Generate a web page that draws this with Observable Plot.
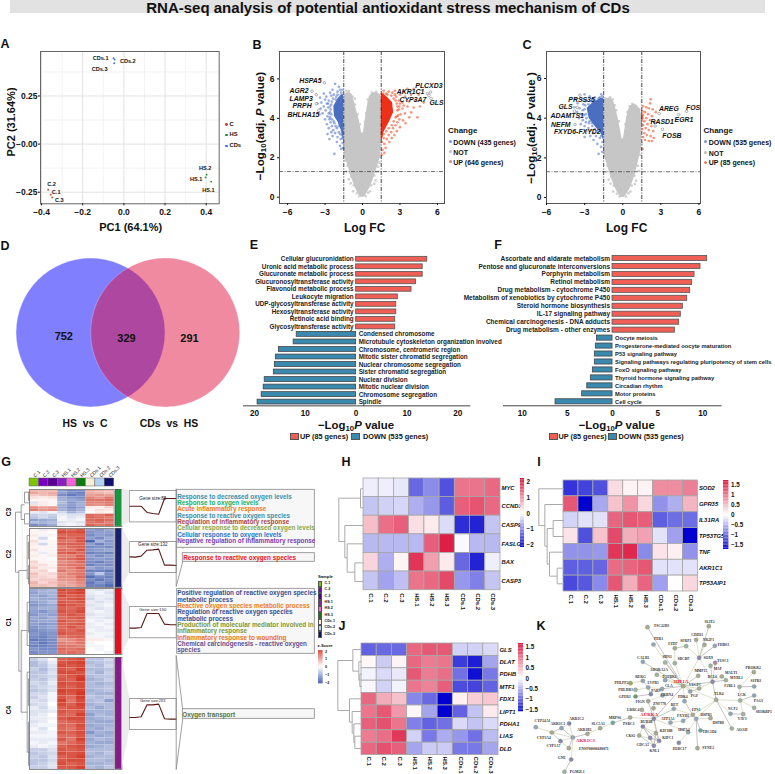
<!DOCTYPE html>
<html><head><meta charset="utf-8">
<script src="https://cdn.jsdelivr.net/npm/d3@7"></script>
<script src="https://cdn.jsdelivr.net/npm/@observablehq/plot@0.6"></script>
<style>
html,body{margin:0;padding:0;background:#fff}
#root{position:relative;width:775px;height:774px;overflow:hidden;font-family:"Liberation Sans",Arial,sans-serif;color:#111}
.t{position:absolute;white-space:pre;font-weight:bold;line-height:1}
.t sub{font-size:.68em;line-height:0;vertical-align:-.25em}
</style></head><body><div id="root"></div>
<script>
// ---------- DATA ----------
const samples=["C.1","C.2","C.3","HS.1","HS.2","HS.3","CDs.1","CDs.2","CDs.3"];
const sampleColors=["#7cc400","#7a00c0","#5a0090","#8a1fc0","#ff60e0","#107a10","#fdeed8","#b0d4f4","#101070"];
// A: PCA
const pcaPoints=[["C",-.368,-.237],["C",-.355,-.263],["C",-.348,-.277],["HS",.402,-.159],["HS",.397,-.173],["HS",.424,-.195],["CDs",-.05,.446],["CDs",-.045,.439],["CDs",-.047,.42]];
const pcaLabels=[["C.2",-.351,-.209],["C.1",-.329,-.252],["C.3",-.314,-.291],["HS.2",.395,-.125],["HS.1",.351,-.182],["HS.1",.411,-.241],["CDs.1",-.113,.448],["CDs.2",.019,.429],["CDs.3",-.118,.389]];
// B: volcano HS vs C (envelopes of the dense clouds, then individually read points)
const bGrayLow=[[0,-.1,.1],[.1,-.26,.26],[.25,-.4,.4],[.5,-.6,.62],[1,-.88,.92],[1.5,-1.12,1.18],[2,-1.38,1.42],[2.5,-1.5,1.5],[3,-1.5,1.5],[3.25,-1.5,1.5]];
const bGrayLeft=[[3.2,-1.5,-.06],[3.6,-1.5,-.16],[4,-1.5,-.3],[4.5,-1.5,-.52],[5,-1.5,-.72],[5.2,-1.42,-.85],[5.3,-1.25,-1]];
const bGrayRight=[[3.2,.06,1.5],[3.6,.14,1.5],[4,.24,1.5],[4.5,.36,1.5],[5,.52,1.5],[5.2,.66,1.42],[5.3,.85,1.2]];
const bBlueCore=[[2.9,-1.55],[3.4,-1.7],[3.8,-1.95],[4.1,-2.25],[4.6,-2.3],[5,-1.95],[5.2,-1.65]];
const bRedCore=[[2.9,1.58],[3.3,1.72],[3.8,2.15],[4.3,2.5],[4.8,2.4],[5.1,1.95],[5.25,1.65]];
const bBlue=[[-2.2,5.75],[-1.9,5.6],[-2.4,5.45],[-2,5.35],[-2.6,5.3],[-3.1,5.25],[-1.7,5.3],[-2.9,5.1],[-2.5,5.15],[-3.4,5.05],[-3,4.95],[-2.7,4.9],[-3.3,4.8],[-2.85,4.75],[-3.6,4.75],[-3.1,4.6],[-2.75,4.55],[-3.35,4.5],[-2.95,4.4],[-2.6,4.3],[-3.2,4.25],[-3.45,4.2],[-2.8,4.1],[-2.65,3.95],[-3,3.95],[-2.55,3.8],[-2.85,3.7],[-2.45,3.6],[-2.7,3.5],[-2.35,3.4],[-2.5,3.3],[-2.8,3.2],[-2.2,3.25],[-2.4,3.1],[-2.65,2.95],[-2,3.05],[-1.75,2.95],[-2.05,2.8],[-1.6,2.75],[-1.8,2.6],[-1.55,2.5],[-1.7,2.45],[-2.25,2.2],[-1.6,3],[-1.9,3.3],[-2.15,3.6],[-2.3,3.85],[-2.5,4.7],[-2.35,5],[-2.1,5.1],[-1.8,5.45],[-2.55,4.45],[-2.6,4.05],[-2.45,4.85],[-2.6,4.6],[-2.5,4.2],[-2.45,3.95],[-2.25,3.75],[-2.05,3.5],[-1.9,3.6],[-1.8,3.2],[-1.65,3.15],[-2.15,4.95],[-2,5.2],[-1.75,5.15],[-1.6,5.45],[-2.7,4.25],[-2.75,4.75],[-2.3,5.2],[-1.55,3.5],[-1.65,3.4],[-1.85,3.75]];
const bRed=[[4.1,5.5],[3.6,5.5],[3.3,5.35],[2.6,5.4],[2.1,5.35],[1.7,5.4],[4.5,5.2],[3.9,5.2],[3.4,5.1],[3,5.2],[2.7,5.1],[4.2,4.9],[4.9,4.8],[3.7,4.85],[3.2,4.8],[2.9,4.9],[4.6,4.6],[4.1,4.55],[3.6,4.6],[3.2,4.5],[2.95,4.6],[3.9,4.3],[3.4,4.25],[3.05,4.2],[4.4,4.05],[3.75,4.05],[2.95,3.95],[3.25,3.9],[2.8,3.8],[3.45,3.75],[2.65,3.65],[3,3.55],[2.45,3.5],[2.75,3.35],[2.3,3.3],[2.55,3.15],[2.1,3.15],[2.35,3],[1.95,2.95],[1.7,3],[2.15,2.8],[1.75,2.7],[1.55,2.8],[1.85,2.5],[1.6,2.4],[1.75,2.25],[1.55,2.15],[2.8,4.4],[2.6,5.2],[2.4,5.3],[1.9,5.25],[3.3,4.65],[2.85,4.15],[2.8,4.6],[2.75,4.75],[2.65,4.9],[2.5,5],[2.3,5.15],[2,5.2],[1.65,5.25],[2.75,4.1],[2.5,3.85],[2.35,3.65],[2.1,3.5],[1.9,3.35],[1.7,3.2],[1.55,3.1],[2.9,4.45],[3,4.75],[2.65,4.05]];
const bGrayFuzz=[[-.9,1.05],[.95,1.1],[-1.2,1.6],[1.25,1.55],[-1.45,2.1],[1.45,2.05],[-.7,.6],[.7,.6],[-.45,.2],[.45,.22],[-.25,.05],[.25,.05],[-.8,5.1],[-.95,5.2],[.6,5.1],[.75,5.3],[1.1,5.35],[-1.3,5.4],[-1.1,5.38],[.5,4.8],[-.6,4.7],[-.4,4.2],[.3,4.25],[.2,3.8],[-.2,3.7],[-1.1,.9],[1.05,.85],[-.95,.7],[.95,.68],[-1.3,1.3],[1.3,1.3],[-.75,.3],[.6,.3],[-1,1.25],[1.1,1.3],[-.6,5],[.42,4.95],[-1.4,1.85],[1.35,1.75]];
const bGenes=[["HSPA5",-3.05,5.8,-4.17,5.89],["AGR2",-4.04,5.38,-5.08,5.38],["LAMP3",-3.7,5.2,-4.92,5.01],["PRPH",-3.7,4.74,-4.84,4.62],["BHLHA15",-3.5,4.4,-4.73,4.2],["PLCXD3",5.45,5.33,5.32,5.67],["AKR1C1",5.2,5.25,3.85,5.33],["CYP3A7",5.32,5.16,4.04,4.96],["GLS",5.5,5,5.93,4.77]];
// C: volcano CDs vs HS
const cGrayLow=[[0,-.1,.1],[.1,-.26,.26],[.25,-.4,.4],[.5,-.6,.62],[1,-.9,.9],[1.5,-1.15,1.12],[2,-1.4,1.3],[2.5,-1.5,1.48],[2.95,-1.5,1.5]];
const cGrayLeft=[[2.9,-1.5,-.04],[3.4,-1.5,-.18],[4,-1.5,-.36],[4.5,-1.5,-.55],[4.85,-1.5,-.72],[5,-1.3,-.95]];
const cGrayRight=[[2.9,.04,1.5],[3.4,.16,1.5],[4,.3,1.5],[4.4,.44,1.4],[4.6,.6,1.2],[4.7,.8,1]];
const cBlueCore=[[2.9,-1.53],[3.2,-1.68],[3.6,-2.2],[4,-2.65],[4.5,-2.8],[4.8,-2.3],[5,-1.7]];
const cRedCore=[[3.7,1.53],[3.9,1.6],[4.2,1.58],[4.4,1.53]];
const cBlue=[[-3,5.2],[-1.7,5.2],[-2.6,5.1],[-2.2,5.05],[-1.9,5],[-3.7,5],[-3.2,4.95],[-2.85,4.9],[-2.4,4.95],[-3.55,4.75],[-3.1,4.7],[-3.8,4.55],[-3.4,4.5],[-3.15,4.4],[-3.6,4.3],[-3.3,4.2],[-3.05,4.15],[-3.45,4],[-3.15,3.9],[-2.9,3.8],[-3.3,3.7],[-3,3.6],[-2.7,3.5],[-2.5,3.4],[-2.85,3.35],[-2.3,3.25],[-2.55,3.1],[-2.1,3.1],[-1.8,3],[-2.3,2.9],[-1.6,2.8],[-2,2.7],[-1.7,2.55],[-1.6,2.3],[-1.9,2.2],[-3,3.05],[-2.65,3.75],[-2.4,3.6],[-2.95,4.65],[-3,4.45],[-2.9,4.2],[-2.85,4],[-2.6,3.85],[-2.4,3.75],[-2.2,3.45],[-1.95,3.3],[-1.7,3.1],[-2.7,4.7],[-2.5,4.85],[-2.2,4.9],[-1.8,5.05],[-1.6,5.1],[-2.95,4.85]];
const cRed=[[2.2,4.95],[2.15,4.75],[1.6,4.6],[1.85,4.55],[2.05,4.5],[2.35,4.45],[1.55,4.35],[1.75,4.3],[2.6,4.3],[2,4.2],[1.6,4.15],[2.3,4.1],[1.85,4],[1.55,4],[2.15,3.9],[1.7,3.85],[2.5,3.8],[1.95,3.7],[1.6,3.65],[2.25,3.6],[1.8,3.5],[1.55,3.45],[2.05,3.4],[2.4,3.35],[1.7,3.25],[1.9,3.15],[2.2,3.1],[1.6,3.05],[2.45,3],[1.75,2.9],[2.05,2.85],[2.3,2.85],[1.55,2.45]];
const cGrayFuzz=[[-.9,1.05],[.92,1.1],[-1.2,1.6],[1.2,1.6],[-1.45,2.1],[1.38,2.15],[-.7,.6],[.7,.6],[-.45,.2],[.45,.22],[-.25,.05],[.25,.05],[-.8,4.95],[-1,5.05],[.55,4.6],[.75,4.72],[1.3,4.45],[1.45,4.2],[-1.4,5],[.38,4.3],[-.5,4.4],[-.3,3.85],[.22,3.7],[-1.1,.9],[1.05,.85],[-.95,.7],[.95,.68],[-1.3,1.3],[1.25,1.35],[-.75,.3],[.6,.3],[1.5,2.7],[1.45,2.45],[-.62,4.65]];
const cGenes=[["PRSS35",-3.37,5.16,-3.24,4.94],["GLS",-3.58,4.54,-4.5,4.59],["ADAMTS1",-3.8,4.35,-4.37,4.1],["NEFM",-3.76,3.68,-4.87,3.68],["FXYD6-FXYD2",-1.9,3.4,-3.58,3.33],["AREG",2.87,4.23,3.63,4.47],["FOS",5.03,4.35,5.53,4.52],["RASD1",2.55,3.61,3.1,3.8],["EGR1",4.4,4.18,4.82,3.9],["FOSB",3.13,3.44,3.87,3.13]];
// D: Venn
const vennSets=[["HS vs C",90],["CDs vs HS",164.7]];
const vennCounts=[["752",63.3],["329",126],["291",189]];
// E
const eUpLabels=["Cellular glucuronidation","Uronic acid metabolic process","Glucuronate metabolic process","Glucuronosyltransferase activity","Flavonoid metabolic process","Leukocyte migration","UDP-glycosyltransferase activity","Hexosyltransferase activity","Retinoic acid binding","Glycosyltransferase activity"];
const eUpValues=[14,13.1,13.1,11.8,10.9,8.2,7.9,7.9,7.7,7.7];
const eDownLabels=["Condensed chromosome","Microtubule cytoskeleton organization involved","Chromosome, centromeric region","Mitotic sister chromatid segregation","Nuclear chromosome segregation","Sister chromatid segregation","Nuclear division","Mitotic nuclear division","Chromosome segregation","Spindle"];
const eDownValues=[11.7,12.3,15.2,15.8,16,16.2,18,18.2,18.6,19.4];
// F
const fUpLabels=["Ascorbate and aldarate metabolism","Pentose and glucuronate interconversions","Porphyrin metabolism","Retinol metabolism","Drug metabolism - cytochrome P450","Metabolism of xenobiotics by cytochrome P450","Steroid hormone biosynthesis","IL-17 signaling pathway","Chemical carcinogenesis - DNA adducts","Drug metabolism - other enzymes"];
const fUpValues=[10.48,9.74,9.08,8.82,8.6,8.27,7.79,7.56,7.38,6.9];
const fDownLabels=["Oocyte meiosis","Progesterone-mediated oocyte maturation","P53 signaling pathway","Signaling pathways regulating pluripotency of stem cells","FoxO signaling pathway","Thyroid hormone signaling pathway","Circadian rhythm","Motor proteins","Cell cycle"];
const fDownValues=[1.73,1.85,1.96,1.96,2.18,2.4,2.8,3.36,6.31];
// G heatmap rows (z-scores)
const heatC3=[[.7,.8,.7,-1.1,-1.3,-1.2,.9,.8,.7],[.9,.7,.8,-1,-1.2,-1.3,.8,.7,.6],[.5,.6,.7,-1.2,-1.4,-1.2,.9,1,.9],[.3,.2,.3,-.9,-1.1,-1.2,1.2,1,1.3],[.1,.1,.1,-.8,-.9,-1,1.3,1.3,1.4],[-.3,.2,.1,-.7,-1.1,-.9,1.2,1.2,1.3],[.3,.2,.1,-.8,-1,-.8,1.1,1,1.2],[1.1,.9,1,-.9,-1.2,-1,.2,.1,.4],[1.2,1,1.1,-.8,-1,-.8,.1,.3,.2],[-.2,-.3,-.1,-.4,-.8,-.6,0,.2,.1],[-.5,-.4,-.5,-.2,-.3,-.3,1.4,1.3,1.5],[-.6,-.4,-.6,-.1,-.3,-.2,1.5,1.4,1.3],[-1,-.9,-.8,-.1,-.2,-.1,1.4,1.5,1.4],[-.7,-.8,-.7,-.3,-.2,-.3,1.3,1.4,1.2],[-1.2,-1.1,-.9,-.2,-.1,-.2,1.5,1.3,1.4]];
const heatC2=[[.1,-.2,.1,1.5,1.4,1.6,-1,-1.1,-.9],[.1,.1,0,1.7,1.6,1.7,-1.1,-1,-1],[.2,-.1,.1,1.4,1.5,1.5,-1.2,-1,-1.1],[.1,-.4,0,1.6,1.4,1.6,-1,-1.2,-.9],[.3,-.1,.1,1.3,1.3,1.6,-1.6,-.8,-1.1],[.2,-.4,.1,1.5,1.5,1.5,-1,-1.3,-1],[.1,.1,.1,1.2,1.4,1.5,-1.2,-1.1,-1.2],[.3,.1,.1,1.4,1.3,1.6,-1.1,-1,-.9],[.1,-.2,.1,1.5,1.6,1.4,-1.3,-1.2,-1.3],[.2,.1,.2,1.2,1.2,1.5,-1,-1.2,-1],[.1,.1,0,1.3,1.4,1.6,-1.1,-1,-1.1],[.4,.1,.1,1.1,1.2,1.4,-1.2,-1.3,-1.1],[.3,.3,.1,1.2,1.3,1.3,-1.3,-1.1,-1.2],[.5,.2,.2,1.1,1.2,1.5,-.9,-1.1,-1],[.3,.4,.1,1.3,1.1,1.3,-1.3,-1.3,-1.4],[.6,.3,.4,1,1.2,1.3,-1.1,-.6,-1.2],[.5,.4,.3,1.1,1.1,1.4,-1.5,-1.2,-1.3],[.4,.5,.5,1,1,1.2,-1.2,-1.4,-1.2],[.7,.4,.6,.8,.9,1.1,-1.4,-1.1,-1.3],[.6,.6,.5,.9,.8,1,-1.3,-1.3,-1.5]];
const heatC1=[[-.9,-.8,-.7,1.7,1.6,1.8,-.2,-.3,-.2],[-1,-.8,-.8,1.6,1.7,1.8,-.2,-.1,-.3],[-.9,-1,-.8,1.7,1.5,1.6,-.3,-.2,-.2],[-.8,-.9,-.9,1.5,1.6,1.7,-.4,-.2,-.3],[-1,-.9,-.7,1.6,1.5,1.6,-.2,-.3,-.2],[-1.1,-1,-.9,1.7,1.6,1.5,-.3,-.2,-.1],[-.9,-.8,-.8,1.5,1.4,1.6,-.2,-.3,-.2],[-1,-1.1,-.9,1.6,1.5,1.7,-.2,-.1,-.2],[-1.1,-.9,-1,1.5,1.6,1.5,-.3,-.2,-.2],[-.9,-1,-.8,1.4,1.5,1.6,-.2,-.2,-.3],[-1,-.9,-.9,1.6,1.4,1.5,-.1,-.2,-.1],[-1,-1.1,-1,1.5,1.5,1.6,-.2,-.1,-.2],[-1.1,-1,-.9,1.4,1.6,1.4,-.2,-.2,-.1],[-1.2,-1.1,-1,1.5,1.4,1.6,-.1,-.2,-.2],[-1.1,-1.2,-1.1,1.6,1.5,1.5,-.2,-.1,-.1],[-1.2,-1.3,-1.1,1.3,1.4,1.5,-.1,-.1,-.2],[-1.4,-1.3,-1.2,1,1.1,1.3,.2,.2,.1],[-1.2,-1.4,-1.2,1.2,1.1,1.3,-.1,0,0],[-1.3,-1.3,-1.2,1.3,1.3,1.2,-.1,-.1,0],[-1.1,-1.2,-1.2,1.4,1.3,1.4,0,-.1,0],[-1.2,-1.1,-1.1,1.3,1.4,1.3,0,0,-.1]];
const heatC4=[[-.5,-.3,.1,1.5,1.6,1.7,-.6,-.6,-.4],[-.7,-.5,-.2,1.6,1.7,1.8,-.7,-.6,-.5],[-.7,-.6,-.3,1.7,1.6,1.7,-.6,-.7,-.4],[-.5,-.7,-.4,1.6,1.5,1.8,-.7,-.7,-.6],[-.6,-.6,-.3,1.7,1.7,1.6,-.6,-.8,-.5],[-.6,-.5,-.4,1.5,1.6,1.8,-.7,-.6,-.6],[-.5,-.6,-.3,1.6,1.5,1.9,-.8,-.7,-.5],[-.4,-.5,-.2,1.7,1.6,1.7,-.7,-.8,-.7],[-.5,-.4,-.3,1.6,1.5,1.7,-.7,-.7,-.6],[-.6,-.5,-.3,1.8,1.7,1.8,-.8,-.7,-.6],[-.4,-.4,-.1,1.7,1.6,1.9,-.7,-.8,-.8],[-.5,-.3,-.1,1.6,1.4,1.8,-.6,-.7,-.6],[-.3,-.4,-.1,1.8,1.3,1.7,-.7,-.6,-1],[-.4,-.3,0,1.7,1.5,1.8,-.8,-.7,-.7],[-.2,-.4,-.1,1.5,1.6,1.7,-.7,-.9,-.7],[-.3,-.3,-.2,1.6,1.5,1.6,-.8,-.8,-.8],[-.3,-.2,0,1.5,1.4,1.8,-1,-.7,-.8],[-.2,-.2,-.1,1.6,1.7,1.7,-.9,-.8,-.7],[-.3,-.2,0,1.4,1.5,1.6,-.8,-.9,-.9],[-.2,-.1,-.1,1.5,1.4,1.7,-.9,-.8,-.8],[-.1,-.3,0,1.4,1.3,1.6,-.8,-.9,-.7],[-.2,-.2,-.1,1.6,1.5,1.7,-1.1,-.8,-.9],[-.1,-.1,-.1,1.4,1.4,1.6,-.8,-.9,-.8],[-.2,-.2,-.2,1.6,1.3,1.8,-.9,-.7,-.8],[-.1,-.2,-.1,1.3,1.4,1.6,-.8,-.9,-.9],[-.2,-.1,-.2,1.5,1.6,1.7,-.9,-.8,-.7],[-.5,-.5,-.3,1.6,1.5,1.6,-.7,-.7,-.7],[-.6,-.5,-.4,1.7,1.6,1.7,-.7,-.8,-.6],[-.5,-.6,-.3,1.5,1.6,1.8,-.8,-.7,-.7],[-.6,-.6,-.4,1.6,1.7,1.7,-.7,-.7,-.8],[-.6,-.5,-.3,1.7,1.5,1.6,-.8,-.8,-.7],[-.5,-.5,-.3,1.6,1.6,1.8,-.7,-.8,-.6]];
const geneProfiles=[
 {size:"Gene size:88",v:[.5,.5,.5,.3,.266,.245,.745,.745,.745]},
 {size:"Gene size:132",v:[.505,.495,.527,.72,.73,.753,.236,.236,.226]},
 {size:"Gene size:150",v:[.31,.31,.33,.777,.777,.777,.436,.415,.415]},
 {size:"Gene size:283",v:[.387,.387,.41,.795,.795,.817,.344,.333,.333]}];
const boxTexts=[
 ["Response to decreased oxygen levels","#3d8fa8",496],["Response to oxygen levels","#17b26a",502.3],["Acute inflammatory response","#ef7d22",508.7],["Response to reactive oxygen species","#3d8fa8",515],["Regulation of inflammatory response","#a84a4a",521.3],["Cellular response to decreased oxygen levels","#8aa84a",527.7],["Cellular response to oxygen levels","#1f78c8",534],["Negative regulation of inflammatory response","#7a3fb0",540.3],
 ["Response to reactive oxygen species","#f01020",557.3,182.7],
 ["Positive regulation of reactive oxygen species","#37508f",592.7],["metabolic process","#37508f",599],["Reactive oxygen species metabolic process","#ef7d22",605.3],["Regulation of reactive oxygen species","#37508f",611.7],["metabolic process","#37508f",618],["Production of molecular mediator involved in","#7a9a3a",624.3],["inflammatory response","#7a9a3a",630.7],["Inflammatory response to wounding","#e8751a",637],["Chemical carcinogenesis - reactive oxygen","#5f4f8f",643.3],["species","#5f4f8f",649.7],
 ["Oxygen transport","#5a7030",714,181.7]];
// H, I, J
const hGenes=["MYC","CCND1","CASP9","FASLG","BAX","CASP3"];
const hValues=[[-.15,-.15,-.2,-1.3,-1,-1.5,1.3,1.3,1.4],[-.5,-.4,-.35,-.7,-.9,-1.4,1.5,1.6,1.4],[.6,1.35,1.5,.3,.2,-.3,-1.8,-1.9,-.5],[-.6,-.6,-.6,-.6,1.5,2.1,-.05,-.6,-.6],[.4,-.7,.1,1.9,.9,.2,-1.3,-1.9,-.15],[-.5,-.8,-.55,1.3,1.4,1.7,-.9,-1.1,-.5]];
const iGenes=["SOD2","GPR35","IL31RA","TP53TG5","TNF","AKR1C1","TP53AIP1"];
const iValues=[[-1.4,-1.3,-1.2,.25,.1,.1,.85,.85,.95],[1.25,-1.75,-.6,.45,.8,.3,-.75,-.55,.55],[-.3,-.2,-.2,1.15,1.25,1.2,-1.1,-1,-1],[.2,-1.2,.45,1.35,.6,.7,-.2,-.65,-1.75],[-.75,-.75,-.7,1.5,1.6,-.8,.2,.12,-.75],[-1.1,-1.1,-1.05,1.1,1.15,1.25,-.2,-.2,-.2],[-1.25,-1.15,-.8,1.25,.6,1.15,-.65,0,.3]];
const jGenes=["GLS","DLAT","PDHB","MTF1","FDX1","LIPT1","PDHA1","LIAS","DLD"];
const jValues=[[-1.05,-1,-1,1.1,1.2,1.2,-.3,-.3,-.25],[.05,-.35,.08,1.1,.95,1,-1.3,-1.5,-.6],[-.08,-.25,-.15,1.2,.95,1.05,-.95,-1.6,-.9],[-.05,-.3,-.08,1,.9,1.15,-1.2,-1.25,-1.05],[1.1,.6,.45,-.8,-1,-1.9,.1,.35,.4],[1,1.2,.75,.05,-.6,-1.7,-1.05,-.4,.15],[1.15,1.25,1,-.85,-1.05,-.95,-.25,-.4,-.25],[.95,1.05,1.45,-.3,-.9,-.55,-.7,-.95,-.45],[1.1,1.25,1.15,-.6,-.35,-.35,-.9,-.9,-.6]];
// dendrogram merges: junction depth, top leaf, bottom leaf, top end depth, bottom end depth
const hTree=[[105,115,172,113,113],[88,337,393,113,113],[65,280,365,113,88],[58,225,322,113,65],[40,143,273,105,58]];
const iTree=[[68,210,258,100,100],[80,353,400,100,100],[57,305,377,100,80],[50,234,341,68,57],[43,162,287,100,50],[25,115,225,100,43]];
const jTree=[[103,206,243,109,109],[100,169,224,109,103],[82,132,197,109,100],[88,392,429,109,109],[85,355,411,109,88],[80,318,383,109,85],[72,280,350,109,80],[37,165,315,82,72]];
const gTree=[[62,178,222,72,72],[72,140,172,88,88],[72,205,235,88,88],[62,555,800,80,80],[55,375,677,80,62],[45,200,380,62,55],[80,270,400,88,88],[80,470,600,88,88],[80,680,920,88,88],[84,290,340,88,88],[84,360,415,88,88],[84,500,560,88,88],[84,700,780,88,88],[84,830,960,88,88],[84,140,165,88,88]];
// K network: [name, node x, node y, label x, label y, colour class]
const netNodes=[["TSC22D3",351,65,393,62,"o"],["SLIT2",535,62,537,50,"o"],["PER1",369,117,384,101,"b"],["CDH11",497,103,500,87,"o"],["NR2F1",522,118,534,103,"o"],["THBS3",553,121,578,118,"b"],["SFRP1",467,122,466,106,"g"],["FZD7",433,128,427,116,"o"],["SOX9",506,157,533,157,"p"],["SDN1",404,171,410,155,"g"],["SBCBP",433,173,459,160,"g"],["TUSC1",554,172,577,166,"r"],["CALB1",337,169,338,157,"b"],["MAF",540,181,562,190,"g"],["ADORA2A",379,208,385,193,"g"],["MMP15",503,211,511,195,"o"],["TGFBR2",404,224,416,213,"b"],["MALT1",574,213,602,202,"o"],["MYBL1",586,224,618,218,"g"],["BCL6",546,229,546,215,"p"],["PROKR2",670,200,668,186,"o"],["F2RL1",627,244,598,241,"g"],["S1PR3",671,243,676,227,"b"],["CLA",395,250,415,240,"b"],["VEGFC",506,249,494,238,"o"],["HIF1A",458,242,452,229,"o"],["PHLPP2",300,233,273,232,"y"],["RERG",337,226,330,215,"b"],["LVPR5",353,246,368,233,"b"],["PHLDB3",315,253,285,252,"g"],["PARV",361,266,377,256,"p"],["CRBN4",396,270,409,267,"b"],["PGF",479,258,492,271,"b"],["TLR4",557,283,565,266,"o"],["LCK",629,285,634,268,"g"],["PAG1",671,270,684,285,"b"],["PDK4",462,287,457,274,"b"],["GPER1",315,273,283,275,"G"],["FIGN",353,287,329,288,"o"],["ZNF778",369,308,387,295,"o"],["RET",430,310,432,299,"b"],["SH3KBP1",671,307,700,319,"g"],["NCF2",600,325,607,311,"b"],["VAV3",638,326,635,341,"g"],["LRRC4",334,313,308,313,"o"],["EPS1",487,328,497,312,"o"],["HSPB1",497,340,527,327,"b"],["FXYD2",458,346,458,332,"b"],["ATP1A1",420,351,412,340,"b"],["AURKA",370,340,356,328,"p"],["HSPB8",540,338,563,351,"o"],["PSRC1",299,336,295,355,"o"],["MRPS6",247,352,253,337,"t"],["SLC5A1",209,368,203,355,"o"],["AKR1B1",171,385,162,372,"o"],["AKR1C2",116,354,138,339,"p"],["AKR1C1",93,368,82,355,"b"],["CYP24A1",16,365,36,345,"b"],["CYP3A4",64,381,40,397,"o"],["CYP3A7",90,407,69,422,"p"],["AKR1C3",127,396,165,404,"b"],["ENSP00000480071",115,428,190,430,"o"],["GNE",122,462,94,458,"p"],["PGM2L1",102,499,140,499,"g"],["BUB1B",337,363,348,349,"p"],["CKS2",326,390,300,390,"o"],["CDCA5",359,397,337,417,"p"],["KNL1",370,421,372,437,"p"],["KIF18B",376,383,407,375,"o"],["KIFC1",386,406,412,396,"p"],["H2BC17",445,412,447,431,"p"],["HSPA2",473,380,460,373,"b"],["TBC1D4",510,375,537,378,"t"],["SYNE2",501,428,533,428,"o"],["AOAH",604,369,634,372,"g"]];
const netRed=["HIF1A","AURKA","AKR1C3"];
const netEdges="TSC22D3 HIF1A|PER1 HIF1A|SOX9 SLIT2|SOX9 CDH11|SOX9 NR2F1|SOX9 THBS3|SOX9 SFRP1|SFRP1 FZD7|FZD7 SBCBP|SBCBP HIF1A|SDN1 HIF1A|SOX9 HIF1A|MMP15 HIF1A|ADORA2A HIF1A|TGFBR2 HIF1A|CLA HIF1A|VEGFC HIF1A|PGF VEGFC|PGF HIF1A|TLR4 HIF1A|TLR4 BCL6|BCL6 SOX9|BCL6 MAF|BCL6 TUSC1|BCL6 MALT1|BCL6 MYBL1|BCL6 VEGFC|BCL6 HIF1A|TLR4 LCK|LCK F2RL1|F2RL1 S1PR3|F2RL1 PROKR2|LCK PAG1|LCK SH3KBP1|LCK VAV3|VAV3 NCF2|TLR4 NCF2|TLR4 AOAH|TLR4 HSPB1|TLR4 EPS1|HIF1A AURKA|HIF1A PDK4|PDK4 EPS1|EPS1 RET|EPS1 HSPB1|EPS1 FXYD2|HSPB1 HSPB8|HSPB1 TBC1D4|HSPB1 HSPA2|HSPA2 H2BC17|HSPB1 SYNE2|FXYD2 ATP1A1|RET AURKA|ZNF778 AURKA|LRRC4 AURKA|FIGN AURKA|AURKA PSRC1|PSRC1 MRPS6|MRPS6 SLC5A1|SLC5A1 AKR1B1|AKR1B1 AKR1C3|AKR1C2 AKR1C3|AKR1C1 AKR1C3|AKR1C1 AKR1C2|CYP24A1 CYP3A4|CYP3A4 AKR1C1|CYP3A4 AKR1C3|CYP3A4 CYP3A7|CYP3A7 AKR1C3|CYP3A7 ENSP00000480071|AKR1C3 ENSP00000480071|AKR1C3 GNE|GNE PGM2L1|AURKA BUB1B|AURKA KIF18B|AURKA KIFC1|BUB1B CKS2|BUB1B CDCA5|BUB1B KNL1|BUB1B KIF18B|BUB1B KIFC1|CDCA5 KNL1|CDCA5 KIFC1|KNL1 KIFC1|KIF18B KIFC1|KIF18B KNL1|CKS2 KIFC1|CKS2 KNL1|AURKA HSPA2|PHLPP2 RERG|RERG LVPR5|LVPR5 CLA|PARV LVPR5|CRBN4 CLA|PHLDB3 LVPR5|GPER1 PARV|FIGN CRBN4|CALB1 HIF1A".split("|").map(s=>s.split(" "));
const netColors={o:"#a9ab8e",b:"#90a8b8",p:"#8a88b0",g:"#9fb5a0",y:"#a8a860",G:"#6f9a68",t:"#6aa8a8",r:"#a88a98"};

// ---------- HELPERS ----------
const root=document.getElementById("root");
const FONT='"Liberation Sans",Arial,sans-serif';
function panel(b,opts){
  const m={l:40,r:40,t:20,b:30,...(b.m||{})};
  const svg=Plot.plot({width:b.x1-b.x0+m.l+m.r,height:b.y1-b.y0+m.t+m.b,marginLeft:m.l,marginRight:m.r,marginTop:m.t,marginBottom:m.b,
    style:{background:"transparent",overflow:"visible",fontFamily:FONT,fontWeight:"bold",fontSize:(b.fs||8.5)+"px",color:"#111",maxWidth:"none"},...opts});
  svg.style.position="absolute";svg.style.left=(b.x0-m.l)+"px";svg.style.top=(b.y0-m.t)+"px";
  root.append(svg);return svg;
}
function label(html,x,y,o={}){
  const d=document.createElement("div");d.className="t";d.innerHTML=html;
  d.style.left=x+"px";d.style.top=y+"px";d.style.fontSize=(o.size||8)+"px";
  if(o.color)d.style.color=o.color;if(o.style)d.style.fontStyle=o.style;
  const a=o.anchor||"middle";const tx=a=="start"?"0":a=="end"?"-100%":"-50%";
  d.style.transform=`translate(${tx},-50%)`+(o.rotate?` rotate(${o.rotate}deg)`:"");
  root.append(d);
}
function swatch(x,y,w,h,c){const d=document.createElement("div");d.style.cssText=`position:absolute;left:${x}px;top:${y}px;width:${w}px;height:${h}px;background:${c};border:.7px solid #555;box-sizing:border-box`;root.append(d);}
function bullet(x,y,r,c){const d=document.createElement("div");d.style.cssText=`position:absolute;left:${x-r}px;top:${y-r}px;width:${2*r}px;height:${2*r}px;background:${c};border-radius:50%`;root.append(d);}
const xy=a=>a.map(([x,y])=>({x,y}));
const hasMinus=d=>String(d).replace("-","−");

// Title
{const d=document.createElement("div");d.style.cssText="position:absolute;left:10px;top:0;width:755px;height:13px;background:#e2e2e2";root.append(d);}
label("RNA-seq analysis of potential antioxidant stress mechanism of CDs",388,7,{size:15});
[["A",5,44],["B",257,45],["C",527,45],["D",5,246],["E",254,245],["F",498,245],["G",6,462],["H",346,462],["I",539,462],["J",342,626],["K",541,626]].forEach(([t,x,y])=>label(t,x,y,{size:12.5}));

// A: PCA
const pcaColor={C:"#d93a2b",HS:"#1a8a2a",CDs:"#2f6fe0"};
panel({x0:40,y0:50.7,x1:218.7,y1:203},{
  x:{domain:[-.405,.463],axis:null},y:{domain:[-.31,.481],axis:null},
  marks:[
    Plot.gridX([-.3,-.1,.1,.3],{stroke:"#eee",strokeOpacity:1,strokeWidth:.7}),Plot.gridX([-.4,-.2,0,.2,.4],{stroke:"#e2e2e2",strokeOpacity:1}),
    Plot.gridY([-.125,.125,.375],{stroke:"#eee",strokeOpacity:1,strokeWidth:.7}),Plot.gridY([-.25,0,.25],{stroke:"#e2e2e2",strokeOpacity:1}),
    Plot.frame({stroke:"#666",strokeWidth:1}),
    Plot.axisX({label:null,ticks:[-.4,-.2,0,.2,.4],tickFormat:d=>d==0?"0.0":d3.format(".1f")(d).replace("-","−"),tickSize:2,tickPadding:3,fontSize:8.5}),
    Plot.axisY({label:null,ticks:[-.25,0,.25],tickFormat:d=>d==.25?"0.25":d==0?"−0.00":"−0.25",tickSize:2,tickPadding:1,fontSize:8.5}),
    Plot.dot(pcaPoints,{x:d=>d[1],y:d=>d[2],r:.9,fill:d=>pcaColor[d[0]]}),
    Plot.text(pcaLabels,{x:d=>d[1],y:d=>d[2],text:d=>d[0],fontSize:5.6})
  ]});
label("PC1 (64.1%)",130.7,226.7,{size:11});
label("PC2 (31.64%)",10.7,122,{size:11,rotate:-90});
[["C",124.5],["HS",135],["CDs",146]].forEach(([t,y])=>{
  bullet(226.5,y,1.4,pcaColor[t]);label(t,229.5,y,{size:5.8,anchor:"start"});});

// B, C: volcanoes
function volcano(b,o){
  const dots=(a,c,op)=>Plot.dot(xy(a),{x:"x",y:"y",r:1.35,fill:c,fillOpacity:op});
  panel(b,{
    x:{domain:o.xd,axis:null},y:{domain:o.yd,axis:null},
    marks:[
      Plot.areaX(o.grayLow,{y:d=>d[0],x1:d=>d[1],x2:d=>d[2],fill:"#c6c6c6"}),
      Plot.areaX(o.grayL,{y:d=>d[0],x1:d=>d[1],x2:d=>d[2],fill:"#c6c6c6"}),
      Plot.areaX(o.grayR,{y:d=>d[0],x1:d=>d[1],x2:d=>d[2],fill:"#c6c6c6"}),
      dots(o.fuzz,"#c6c6c6",.8),
      Plot.areaX(o.blueCore,{y:d=>d[0],x1:-1.5,x2:d=>d[1],fill:"#4a6fc0"}),
      Plot.areaX(o.redCore,{y:d=>d[0],x1:1.5,x2:d=>d[1],fill:"#ef2f18"}),
      dots(o.blue,"#5878c8",.6),dots(o.red,"#f0502c",.6),
      Plot.ruleX([-1.5,1.5],{stroke:"#333",strokeDasharray:"4 1.5 1 1.5",strokeWidth:.9}),
      Plot.ruleY([1.3],{stroke:"#333",strokeDasharray:"4 1.5 1 1.5",strokeWidth:.7}),
      Plot.frame({stroke:"#555",strokeWidth:1}),
      Plot.dot(o.genes,{x:d=>d[1],y:d=>d[2],r:1.3,stroke:"#666",strokeWidth:.5,fill:"#fff"}),
      Plot.text(o.genes,{x:d=>d[3],y:d=>d[4],text:d=>d[0],fontStyle:"italic",fontSize:6.9}),
      Plot.axisX({label:null,ticks:[-6,-3,0,3,6],tickSize:2,tickPadding:3,fontSize:8.5}),
      Plot.axisY({label:null,ticks:[0,2,4,6],tickSize:2,tickPadding:3,fontSize:8.5})
    ]});
}
volcano({x0:279,y0:51,x1:444,y1:203},{xd:[-6.65,6.57],yd:[-.32,7.39],grayLow:bGrayLow,grayL:bGrayLeft,grayR:bGrayRight,fuzz:bGrayFuzz,blueCore:bBlueCore,redCore:bRedCore,blue:bBlue,red:bRed,genes:bGenes});
volcano({x0:546.3,y0:51,x1:700.3,y1:203},{xd:[-6,6.12],yd:[-.3,7.36],grayLow:cGrayLow,grayL:cGrayLeft,grayR:cGrayRight,fuzz:cGrayFuzz,blueCore:cBlueCore,redCore:cRedCore,blue:cBlue,red:cRed,genes:cGenes});
label("Log FC",364.7,228.3,{size:12});label("Log FC",626.7,228.3,{size:12});
label('−Log<sub>10</sub>(adj. <i>P</i> value)',260,125.8,{size:11.6,rotate:-90});
label('−Log<sub>10</sub>(adj. <i>P</i> value )',530.7,128,{size:11.6,rotate:-90});
function volcLegend(x,items){
  label("Change",x,131,{size:8,anchor:"start"});
  items.forEach(([t,y,c])=>{bullet(x+2.3,y,1.6,c);label(t,x+5.3,y,{size:7,anchor:"start"});});
}
volcLegend(448,[["DOWN (435 genes)",141.7,"#7d93d0"],["NOT",151.7,"#bdbdbd"],["UP (646 genes)",161.7,"#e8806e"]]);
volcLegend(703.5,[["DOWN (535 genes)",141.7,"#7d93d0"],["NOT",152.7,"#bdbdbd"],["UP (85 genes)",162.3,"#e8806e"]]);

// D: Venn
panel({x0:0,y0:245,x1:245,y1:430,m:{l:0,r:0,t:0,b:0}},{
  x:{domain:[0,245],axis:null},y:{domain:[245,430],range:[0,185],axis:null},
  marks:[
    Plot.dot(vennSets.slice(0,1),{x:d=>d[1],y:()=>332,r:74.5,fill:"#8080ff",stroke:"#fff",strokeWidth:.4}),
    Plot.dot(vennSets.slice(1),{x:d=>d[1],y:()=>332,r:74.5,fill:"#df0635",fillOpacity:.47,stroke:"#fff",strokeOpacity:.6,strokeWidth:.4}),
    Plot.text(vennCounts,{x:d=>d[1],y:d=>d[0]=="752"?336:338,text:d=>d[0],fontSize:11,fill:"#111"})
  ]});
label("HS  vs  C",85,424,{size:10.4});label("CDs  vs  HS",169,424,{size:10.4});

// E, F: diverging bars
function bars(b,o){
  const up=o.upL.map((label,i)=>({label,v:o.upV[i]}));
  const down=o.downL.map((label,i)=>({label,v:-o.downV[i]}));
  panel({...b,m:{l:10,r:60,t:3,b:20},fs:8},{
    x:{domain:o.xd,axis:null},
    y:{type:"band",domain:[...o.upL,...o.downL],paddingInner:.36,paddingOuter:.18,round:false,axis:null},
    marks:[
      Plot.barX(up,{x:"v",y:"label",fill:"#ef5f56",stroke:"#555",strokeWidth:.8}),
      Plot.barX(down,{x:"v",y:"label",fill:"#3a8ab0",stroke:"#444",strokeWidth:.8}),
      Plot.text(up,{x:0,y:"label",text:"label",textAnchor:"end",dx:-2.5,fontSize:o.fs,fill:"#222"}),
      Plot.text(down,{x:0,y:"label",text:"label",textAnchor:"start",dx:2.5,fontSize:o.fsDown||o.fs,fill:"#222"}),
      Plot.frame({anchor:"bottom",stroke:"#444",strokeWidth:1}),
      Plot.axisX({label:null,ticks:o.ticks,tickFormat:d=>Math.abs(d),tickSize:0,tickPadding:4,fontSize:8.2})
    ]});
}
bars({x0:242.7,y0:255.25,x1:469,y1:405.6},{upL:eUpLabels,upV:eUpValues,downL:eDownLabels,downV:eDownValues,xd:[-22.17,22.37],ticks:[-20,-10,0,10,20],fs:6.35});
bars({x0:503,y0:254.3,x1:720.7,y1:405.6},{upL:fUpLabels,upV:fUpValues,downL:fDownLabels,downV:fDownValues,xd:[-12.07,12.03],ticks:[-10,-5,0,5,10],fs:6.5,fsDown:5.8});
label('−Log<sub>10</sub><i>P</i> value',356,425.5,{size:11.4});label('−Log<sub>10</sub><i>P</i> value',616.7,425.5,{size:11.4});
swatch(290,432.7,9,7.8,"#ef5f56");label("UP (85 genes)",300,437,{size:7.3,anchor:"start"});
swatch(351,432.7,9,7.8,"#3a8ab0");label("DOWN (535 genes)",363,437,{size:7.3,anchor:"start"});
swatch(549,432.7,9,7.8,"#ef5f56");label("UP (85 genes)",558.5,437,{size:7.3,anchor:"start"});
swatch(607.7,432.7,9,7.8,"#3a8ab0");label("DOWN (535 genes)",618.5,437,{size:7.3,anchor:"start"});

// G: heatmap blocks
const gColor={type:"linear",domain:[-2,0,2],range:["#1f3f9e","#ffffff","#cf2c18"],clamp:true};
function long(rows,names){return rows.flatMap((r,i)=>r.map((v,j)=>({row:names?names[i]:i,col:samples[j],v})));}
const gBlocks=[["C3",heatC3,488.7,525.7,"#1a9640",511.7],["C2",heatC2,527.7,586.7,"#1a2070",554],["C1",heatC1,588.3,654.3,"#e01020",621.7],["C4",heatC4,657,769,"#851a8c",710]];
gBlocks.forEach(([name,rows,y0,y1,col,ly])=>{
  panel({x0:29.3,y0,x1:114,y1,m:{l:0,r:0,t:0,b:0}},{
    x:{domain:samples,padding:0,round:false,axis:null},y:{domain:d3.range(rows.length),padding:0,round:false,axis:null},color:gColor,
    marks:[Plot.cell(long(rows),{x:"col",y:"row",fill:"v"}),Plot.frame({stroke:"#8a8a8a",strokeWidth:1})]});
  panel({x0:115.3,y0,x1:121.7,y1,m:{l:0,r:0,t:0,b:0}},{x:{domain:[0,1],axis:null},y:{domain:[0,1],axis:null},marks:[Plot.rect([name],{x1:0,x2:1,y1:0,y2:1,fill:col}),Plot.frame({stroke:"#555",strokeWidth:.7})]});
  label(name,9,ly,{size:6.8,rotate:-90});
});
// G: sample annotation strip
panel({x0:29.3,y0:478.3,x1:114,y1:486.3,m:{l:0,r:0,t:14,b:0},fs:4.8},{
  x:{domain:samples,padding:0,round:false,axis:null},y:{domain:["s"],padding:0,round:false,axis:null},color:{type:"identity"},
  marks:[Plot.cell(samples,{x:d=>d,y:()=>"s",fill:(d,i)=>sampleColors[i],stroke:"#666",strokeWidth:.5}),
    Plot.axisX({label:null,anchor:"top",tickRotate:-45,tickSize:0,tickPadding:2,fontSize:4.8,fontWeight:"normal"})]});
// G: gene-size profile boxes
const profileBoxes=[[490.3,521.7],[541.3,572.3],[605.7,637],[698.3,729.3]];
const profileFs=[4.6,4.6,4.2,3.9];
const profileDy=[6,1.6,1.8,1];
geneProfiles.forEach((p,k)=>{
  const [y0,y1]=profileBoxes[k];
  panel({x0:129,y0,x1:175.7,y1,m:{l:0,r:0,t:0,b:0}},{
    x:{domain:[0,8],axis:null},y:{domain:[0,1],axis:null},
    marks:[Plot.frame({fill:"#fff",stroke:"#888",strokeWidth:.8}),
      Plot.lineY(p.v,{x:(d,i)=>i,y:d=>d,stroke:"#5a1a1a",strokeWidth:1.1}),
      Plot.text([p.size],{frameAnchor:"top",lineAnchor:"top",dy:profileDy[k],fontSize:profileFs[k],fontWeight:"normal",fill:"#222"})]});
});
// G: sample legend, z-score bar
sampleColors.forEach((c,i)=>{swatch(317.7,580.7+i*6.33,4.6,6.33,c);label(samples[i],324.5,583.9+i*6.33,{size:3.7,anchor:"start"});});
label("Sample",318,577,{size:4.2,anchor:"start"});label("z-Score",317.5,646,{size:4.2,anchor:"start"});
const zTicks=[2,1,0,-1,-2];
function colorbar(b,o){
  const steps=d3.range(o.dom[0],o.dom[1],(o.dom[1]-o.dom[0])/48);
  const h=(o.dom[1]-o.dom[0])/48;
  panel({...b,m:{l:0,r:16,t:2,b:2},fs:o.fs},{
    x:{domain:[0,1],axis:null},y:{domain:o.dom,axis:null},color:o.color,
    marks:[Plot.rect(steps,{x1:0,x2:1,y1:d=>d,y2:d=>d+h,fill:d=>d+h/2}),
      Plot.axisY({label:null,anchor:"right",ticks:o.ticks,tickFormat:hasMinus,tickSize:0,tickPadding:2,fontSize:o.fs})]});
}
colorbar({x0:317.7,y0:650,x1:322.3,y1:683.3},{dom:[-2.1,2.1],ticks:zTicks,color:gColor,fs:3.8});

// H, I, J
const low="#0000d0",high="#dc143c";
const scale=d=>({type:"linear",domain:[-d,0,d],range:[low,"#ffffff",high],clamp:true});
function heat(b,genes,vals,d,pad){
  panel({...b,m:{l:0,r:30,t:0,b:20},fs:5.9},{
    x:{domain:samples,padding:0,round:false,axis:null},y:{domain:genes,padding:0,round:false,axis:null},color:scale(d),
    marks:[Plot.cell(long(vals,genes),{x:"col",y:"row",fill:"v",stroke:"#a6a6a6",strokeWidth:.8}),
      Plot.axisY({label:null,anchor:"right",tickSize:0,tickPadding:1,fontStyle:"italic",fontSize:5.9}),
      Plot.axisX({label:null,anchor:"bottom",tickRotate:90,tickSize:0,tickPadding:pad,fontSize:6})]});
}
heat({x0:362.7,y0:478.3,x1:499.7,y1:590},hGenes,hValues,2.2,3);
heat({x0:563.3,y0:480.3,x1:697.7,y1:591.3},iGenes,iValues,1.75,3);
heat({x0:361.3,y0:642.7,x1:498.3,y1:754.3},jGenes,jValues,1.7,1.5);
colorbar({x0:520.3,y0:478.3,x1:524.3,y1:547.3},{dom:[-2.15,2.21],ticks:[2,1,0,-1,-2],color:scale(2.2),fs:6.3});
colorbar({x0:723.3,y0:480.3,x1:728.7,y1:549.3},{dom:[-1.72,1.73],ticks:[1.5,1,.5,0,-.5,-1,-1.5],color:scale(1.75),fs:6.3});
colorbar({x0:518.3,y0:642.7,x1:523.3,y1:711},{dom:[-1.61,1.69],ticks:[1.5,1,.5,0,-.5,-1,-1.5],color:scale(1.7),fs:6.3});

// K: network
{
  const pos=Object.fromEntries(netNodes.map(n=>[n[0],n]));
  const isRed=n=>netRed.includes(n[0]);
  panel({x0:530,y0:605,x1:775,y1:774,m:{l:0,r:0,t:0,b:0}},{
    x:{domain:[0,735],axis:null},y:{domain:[0,507],range:[0,169],axis:null},
    marks:[
      Plot.link(netEdges,{x1:e=>pos[e[0]][1],y1:e=>pos[e[0]][2],x2:e=>pos[e[1]][1],y2:e=>pos[e[1]][2],stroke:(e,i)=>i%5==0?"#9a8aa0":i%5==2?"#8aa08a":"#c4c69a",strokeWidth:.55}),
      Plot.dot(netNodes,{x:d=>d[1],y:d=>d[2],r:2.1,fill:d=>netColors[d[5]],stroke:"#777",strokeWidth:.3}),
      Plot.text(netNodes.filter(n=>!isRed(n)),{x:d=>d[3],y:d=>d[4],text:d=>d[0],fontFamily:"Liberation Serif",fontSize:3.7,fill:"#333"}),
      Plot.text(netNodes.filter(isRed),{x:d=>d[3],y:d=>d[4],text:d=>d[0],fontFamily:"Liberation Serif",fontSize:4.8,fill:"#e8202c"})
    ]});
}

// Annotation overlay: G connectors, text boxes; dendrograms
{
  const funnels=[[488.7,525.7,490.3,521.7],[527.7,586.7,541.3,572.3],[588.3,654.3,605.7,637],[657,769,698.3,729.3]];
  const fx=[121.7,129.3];
  const textBoxes=[[176.7,489.3,314.3,547.3],[182.3,552.7,314.3,561.3],[176.7,588.3,314.3,653.3],[182.3,708.7,314.3,718.3]];
  const brackets=[[175.7,488.3,175.7,586],[175.7,488.3,182.3,548],[182.3,561,175.7,586],[175.7,655,175.7,769],[175.7,655,182.3,710],[182.3,718,175.7,769]];
  const tree=(t,ox,oy)=>t.flatMap(([h,y1,y2,a,b])=>[[h,y1,h,y2],[h,y1,a,y1],[h,y2,b,y2]].map(([p,q,r,s])=>({x1:p/3+ox,y1:q/3+oy,x2:r/3+ox,y2:s/3+oy})));
  const treeMark=(t,ox,oy,c,w)=>Plot.link(tree(t,ox,oy),{x1:"x1",y1:"y1",x2:"x2",y2:"y2",stroke:c,strokeWidth:w});
  panel({x0:0,y0:0,x1:775,y1:774,m:{l:0,r:0,t:0,b:0}},{
    x:{domain:[0,775],axis:null},y:{domain:[0,774],range:[0,774],axis:null},
    marks:[
      ...funnels.map(f=>Plot.areaY(fx,{x:d=>d,y1:(d,i)=>i?f[2]:f[0],y2:(d,i)=>i?f[3]:f[1],fill:"#ececec"})),
      Plot.link(brackets,{x1:d=>d[0],y1:d=>d[1],x2:d=>d[2],y2:d=>d[3],stroke:"#888",strokeWidth:.8}),
      Plot.rect(textBoxes,{x1:d=>d[0],y1:d=>d[1],x2:d=>d[2],y2:d=>d[3],fill:"#f7f7f7",stroke:"#888",strokeWidth:.8}),
      Plot.text(boxTexts,{x:d=>d[3]||176.7,y:d=>d[2],text:d=>d[0],fill:d=>d[1],textAnchor:"start",fontSize:6.35,fontWeight:"bold"}),
      Plot.ruleX([21.7],{y1:488,y2:720,stroke:"#ccc",strokeDasharray:"1.2 1",strokeWidth:.6}),
      treeMark(gTree,0,445,"#777",.7),
      treeMark(hTree,325,450,"#aaa",1),
      treeMark(iTree,530,450,"#aaa",1),
      treeMark(jTree,325,605,"#aaa",1)
    ]});
}
</script></body></html>
